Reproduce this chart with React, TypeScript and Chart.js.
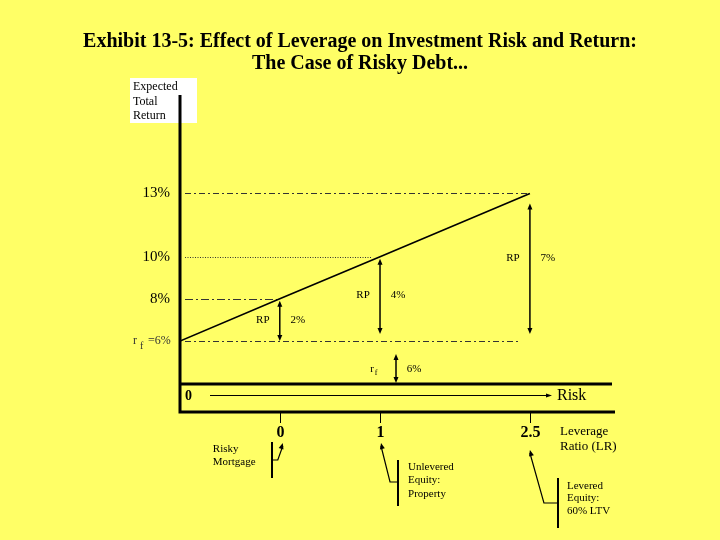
import React, { useEffect, useRef } from 'react';
import { Chart, registerables } from 'chart.js';

Chart.register(...registerables);

// ---------- data ----------
const titleLines = [
  'Exhibit 13-5: Effect of Leverage on Investment Risk and Return:',
  'The Case of Risky Debt...',
];
const yAxisTitle = ['Expected', 'Total', 'Return'];
const riskFreeRate = 6;
const assetNames = [
  ['Risky', 'Mortgage'],
  ['Unlevered', 'Equity:', 'Property'],
  ['Levered', 'Equity:', '60% LTV'],
];
const leverageLabels = ['0', '1', '2.5'];
const assetReturns = [8, 10, 13];
const riskPremiums = [2, 4, 7];
const assetRisk = [2.31, 4.63, 8.1];
const returnTickLabels = ['8%', '10%', '13%'];
const rfArrowRisk = 5.0;
const xAxisLabel = 'Risk';
const leverageAxisLabel = ['Leverage', 'Ratio (LR)'];

const SERIF = "'Liberation Serif', 'Times New Roman', serif";

function head(ctx: CanvasRenderingContext2D, x: number, y: number, angle: number, len = 6, w = 2.5) {
  ctx.save();
  ctx.translate(x, y);
  ctx.rotate(angle);
  ctx.beginPath();
  ctx.moveTo(0, 0);
  ctx.lineTo(-len, -w);
  ctx.lineTo(-len, w);
  ctx.closePath();
  ctx.fill();
  ctx.restore();
}

function vDoubleArrow(ctx: CanvasRenderingContext2D, x: number, y1: number, y2: number) {
  ctx.save();
  ctx.lineWidth = 1.5;
  ctx.strokeStyle = '#000';
  ctx.fillStyle = '#000';
  ctx.beginPath();
  ctx.moveTo(x, y1 + 3);
  ctx.lineTo(x, y2 - 3);
  ctx.stroke();
  head(ctx, x, y1, -Math.PI / 2);
  head(ctx, x, y2, Math.PI / 2);
  ctx.restore();
}

function dashed(ctx: CanvasRenderingContext2D, x1: number, x2: number, y: number, dash: number[]) {
  ctx.save();
  ctx.strokeStyle = '#333';
  ctx.lineWidth = 1;
  ctx.setLineDash(dash);
  ctx.beginPath();
  ctx.moveTo(x1, Math.round(y) + 0.5);
  ctx.lineTo(x2, Math.round(y) + 0.5);
  ctx.stroke();
  ctx.restore();
}

const diagramPlugin = {
  id: 'diagram',
  beforeDraw(chart: any) {
    const { ctx, width, height } = chart;
    ctx.save();
    ctx.fillStyle = '#FFFF66';
    ctx.fillRect(0, 0, width, height);
    ctx.restore();
  },
  beforeDatasetsDraw(chart: any) {
    const { ctx, chartArea, scales } = chart;
    const X = (v: number) => scales.x.getPixelForValue(v);
    const Y = (v: number) => scales.y.getPixelForValue(v);
    const L = chartArea.left;
    // reference level lines
    dashed(ctx, L + 5, X(assetRisk[2]), Y(assetReturns[2]), [6, 3, 2, 3]);
    dashed(ctx, L + 5, X(assetRisk[1]) - 8, Y(assetReturns[1]), [1, 1.5]);
    dashed(ctx, L + 5, X(assetRisk[0]), Y(assetReturns[0]), [8, 3, 2, 3]);
    dashed(ctx, L + 5, X(assetRisk[2]) - 10, Y(riskFreeRate), [6, 3, 2, 3]);
  },
  afterDraw(chart: any) {
    const { ctx, chartArea, scales } = chart;
    const X = (v: number) => scales.x.getPixelForValue(v);
    const Y = (v: number) => scales.y.getPixelForValue(v);
    const L = chartArea.left, R = chartArea.right, T = chartArea.top, B = chartArea.bottom;
    ctx.save();
    ctx.fillStyle = '#000';
    ctx.strokeStyle = '#000';

    // title
    ctx.font = `bold 20px ${SERIF}`;
    ctx.textAlign = 'center';
    ctx.textBaseline = 'middle';
    titleLines.forEach((t, i) => ctx.fillText(t, 360, 42 + i * 21.5));

    // y axis title box
    ctx.fillStyle = '#fff';
    ctx.fillRect(L - 50, T - 17, 67, 45);
    ctx.fillStyle = '#000';
    ctx.font = `12px ${SERIF}`;
    ctx.textAlign = 'left';
    yAxisTitle.forEach((t, i) => ctx.fillText(t, L - 47, T - 8 + i * 14.5));

    // axes frame
    ctx.lineWidth = 3;
    ctx.beginPath();
    ctx.moveTo(L, T);
    ctx.lineTo(L, B + 28);
    ctx.moveTo(L, B);
    ctx.lineTo(R, B);
    ctx.moveTo(L - 1.5, B + 28);
    ctx.lineTo(R + 3, B + 28);
    ctx.stroke();

    // risk row
    ctx.font = `bold 14px ${SERIF}`;
    ctx.textAlign = 'left';
    ctx.fillText('0', L + 5, B + 12);
    ctx.lineWidth = 1;
    ctx.beginPath();
    ctx.moveTo(L + 30, B + 11.5);
    ctx.lineTo(R - 62, B + 11.5);
    ctx.stroke();
    head(ctx, R - 60, B + 11.5, 0, 6, 2);
    ctx.font = `16px ${SERIF}`;
    ctx.fillText(xAxisLabel, R - 55, B + 12);

    // y tick labels
    ctx.textAlign = 'right';
    ctx.font = `15px ${SERIF}`;
    assetReturns.forEach((v, i) => ctx.fillText(returnTickLabels[i], L - 10, Y(v)));
    // r_f = 6%
    ctx.font = `12px ${SERIF}`;
    ctx.fillStyle = '#333';
    ctx.textAlign = 'left';
    const yrf = Y(riskFreeRate);
    ctx.fillText('r', L - 47, yrf);
    ctx.font = `10px ${SERIF}`;
    ctx.fillText('f', L - 40, yrf + 5);
    ctx.font = `12px ${SERIF}`;
    ctx.fillText('=' + riskFreeRate + '%', L - 32, yrf);
    ctx.fillStyle = '#000';

    // risk premium arrows
    ctx.font = `11px ${SERIF}`;
    ctx.textAlign = 'center';
    assetRisk.forEach((r, i) => {
      const x = X(r);
      const top = Y(assetReturns[i]);
      const bot = i === 0 ? Y(riskFreeRate) : Y(riskFreeRate) - 7;
      vDoubleArrow(ctx, x, top + (i === 2 ? 10 : 2), bot);
      const my = (top + bot) / 2 + (i === 2 ? -6 : 0);
      ctx.fillText('RP', x - 17, my);
      ctx.fillText(riskPremiums[i] + '%', x + 18, my);
    });

    // risk-free arrow
    const xr = X(rfArrowRisk);
    vDoubleArrow(ctx, xr, yrf + 13, B - 1);
    const myr = (yrf + 13 + B) / 2;
    ctx.fillText('r', xr - 24, myr);
    ctx.font = `8px ${SERIF}`;
    ctx.fillText('f', xr - 20, myr + 4);
    ctx.font = `11px ${SERIF}`;
    ctx.fillText(riskFreeRate + '%', xr + 18, myr);

    // leverage ticks & labels
    ctx.lineWidth = 1;
    ctx.font = `bold 16px ${SERIF}`;
    assetRisk.forEach((r, i) => {
      const x = Math.round(X(r)) + 0.5;
      ctx.beginPath();
      ctx.moveTo(x, B + 29);
      ctx.lineTo(x, B + 39);
      ctx.stroke();
      ctx.fillText(leverageLabels[i], x, B + 49);
    });
    ctx.textAlign = 'left';
    ctx.font = `13px ${SERIF}`;
    leverageAxisLabel.forEach((t, i) => ctx.fillText(t, R - 52, B + 48 + i * 15));

    // asset annotations
    const ann = [
      { bx: -8, by1: 442, by2: 478, cy: 460, cx: -2, tx: 3, ty: 443, lx: -67, ly: 449, lh: 13 },
      { bx: 18, by1: 460, by2: 506, cy: 482, cx: 10, tx: 1, ty: 443, lx: 28, ly: 467, lh: 13.5 },
      { bx: 28, by1: 478, by2: 528, cy: 503, cx: 14, tx: 0, ty: 450, lx: 37, ly: 486, lh: 12.5 },
    ];
    ctx.font = `11px ${SERIF}`;
    assetRisk.forEach((r, i) => {
      const px = X(r);
      const a = ann[i];
      const bx = Math.round(px + a.bx);
      ctx.lineWidth = 2;
      ctx.beginPath();
      ctx.moveTo(bx, a.by1);
      ctx.lineTo(bx, a.by2);
      ctx.stroke();
      ctx.lineWidth = 1.2;
      ctx.beginPath();
      ctx.moveTo(bx, a.cy);
      ctx.lineTo(px + a.cx, a.cy);
      ctx.lineTo(px + a.tx, a.ty + 3);
      ctx.stroke();
      const ang = Math.atan2(a.ty - a.cy, a.tx - a.cx);
      head(ctx, px + a.tx, a.ty, ang, 6, 2.5);
      assetNames[i].forEach((t, j) => ctx.fillText(t, px + a.lx, a.ly + j * a.lh));
    });

    ctx.restore();
  },
};

export default function App() {
  const ref = useRef<HTMLCanvasElement>(null);
  useEffect(() => {
    const lineData = [{ x: 0, y: riskFreeRate }].concat(
      assetRisk.map((r, i) => ({ x: r, y: assetReturns[i] }))
    );
    const chart = new Chart(ref.current as HTMLCanvasElement, {
      type: 'line',
      data: {
        datasets: [
          {
            data: lineData,
            borderColor: '#000',
            borderWidth: 1.6,
            pointRadius: 0,
            fill: false,
            tension: 0,
          },
        ],
      },
      options: {
        responsive: false,
        animation: false,
        layout: { padding: { left: 180, top: 95, right: 108, bottom: 156 } },
        scales: {
          x: { type: 'linear', min: 0, max: 10, display: false },
          y: { type: 'linear', min: 3.96, max: 17.67, display: false },
        },
        plugins: {
          legend: { display: false },
          tooltip: { enabled: false },
        },
      },
      plugins: [diagramPlugin],
    });
    return () => chart.destroy();
  }, []);
  return (
    <div style={{ position: 'fixed', left: 0, top: 0, width: 720, height: 540, background: '#FFFF66' }}>
      <canvas ref={ref} width={720} height={540} style={{ display: 'block' }} />
    </div>
  );
}
